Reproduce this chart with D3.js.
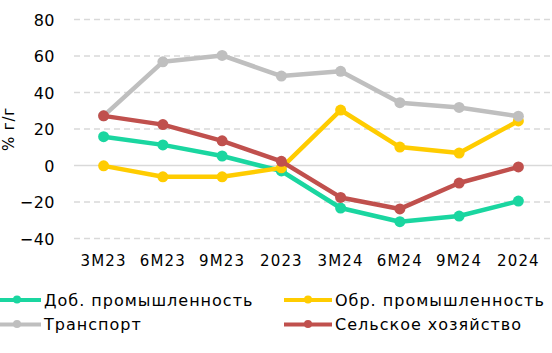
<!DOCTYPE html>
<html>
<head>
<meta charset="utf-8">
<script src="https://cdn.jsdelivr.net/npm/d3@7"></script>
<style>
  body { margin: 0; background: #fff; }
  svg text { font-family: "DejaVu Sans", Verdana, sans-serif; fill: #000; }
</style>
</head>
<body>
<div id="canvas"></div>
<script>
const w = 552;
const h = 353;

const periods = ["3M23", "6M23", "9M23", "2023", "3M24", "6M24", "9M24", "2024"];
const yTicks = [-40, -20, 0, 20, 40, 60, 80];

const mining = [15.8, 11.3, 5.2, -3.0, -23.3, -30.8, -27.7, -19.5];
const manufacturing = [-0.2, -6.2, -6.2, -1.3, 30.4, 10.1, 6.8, 24.4];
const transport = [27.2, 56.8, 60.3, 49.0, 51.6, 34.4, 31.8, 27.0];
const agriculture = [27.2, 22.4, 13.5, 2.3, -17.5, -23.8, -9.6, -0.8];

const seriesNames = ["Доб. промышленность", "Обр. промышленность", "Транспорт", "Сельское хозяйство"];
const seriesColors = ["#1ad6a0", "#ffcc00", "#bfbfbf", "#c0504d"];
const seriesValues = [mining, manufacturing, transport, agriculture];

const margin = { top: 19.5, left: 74, right: 4, bottom: 114.5 };

const svg = d3.select("#canvas")
  .append("svg")
  .attr("width", w)
  .attr("height", h);

const x = d3.scaleBand()
  .domain(periods)
  .range([margin.left, w - margin.right]);

const y = d3.scaleLinear()
  .domain([-40, 80])
  .range([h - margin.bottom, margin.top]);

// gridlines
const grid = svg.append("g");
grid.selectAll("line")
  .data(yTicks)
  .enter()
  .append("line")
  .attr("x1", margin.left)
  .attr("x2", w)
  .attr("y1", d => y(d))
  .attr("y2", d => y(d))
  .attr("stroke", "#d9d9d9")
  .attr("stroke-width", 1.5)
  .attr("stroke-dasharray", d => d === 0 ? null : "6,4");

// y axis labels
const yAxis = d3.axisLeft(y)
  .tickValues(yTicks)
  .tickSize(0)
  .tickPadding(0);
const yg = svg.append("g")
  .attr("transform", "translate(55,0)")
  .call(yAxis);
yg.select(".domain").remove();
yg.selectAll("text")
  .style("font-size", "16px")
  .style("letter-spacing", "0.5px")
  .attr("dy", "0.35em");

// x axis labels
const xAxis = d3.axisBottom(x).tickSize(0).tickPadding(0);
const xg = svg.append("g")
  .attr("transform", "translate(0,255)")
  .call(xAxis);
xg.select(".domain").remove();
xg.selectAll("text")
  .style("font-size", "15px")
  .style("letter-spacing", "1.2px");

// y axis title
svg.append("text")
  .attr("transform", "translate(14," + y(20) + ") rotate(-90)")
  .attr("text-anchor", "middle")
  .style("font-size", "15px")
  .style("letter-spacing", "0.8px")
  .text("% г/г");

// lines
const line = d3.line()
  .x((d, i) => x(periods[i]) + x.bandwidth() / 2)
  .y(d => y(d));

seriesValues.forEach(function(vals, k) {
  const g = svg.append("g");
  g.append("path")
    .attr("d", line(vals))
    .attr("fill", "none")
    .attr("stroke", seriesColors[k])
    .attr("stroke-width", 4.5)
    .attr("stroke-linejoin", "round");
  g.selectAll("circle")
    .data(vals)
    .enter()
    .append("circle")
    .attr("cx", (d, i) => x(periods[i]) + x.bandwidth() / 2)
    .attr("cy", d => y(d))
    .attr("r", 5.5)
    .attr("fill", seriesColors[k]);
});

// legend
const legendPos = [[-7, 300], [284, 300], [-7, 324.5], [284, 324.5]];
seriesNames.forEach(function(name, k) {
  const lx = legendPos[k][0];
  const ly = legendPos[k][1];
  const g = svg.append("g");
  g.append("line")
    .attr("x1", lx)
    .attr("x2", lx + 48)
    .attr("y1", ly)
    .attr("y2", ly)
    .attr("stroke", seriesColors[k])
    .attr("stroke-width", 4);
  g.append("circle")
    .attr("cx", lx + 24)
    .attr("cy", ly - 0.5)
    .attr("r", 4)
    .attr("fill", seriesColors[k]);
  g.append("text")
    .attr("x", lx + 51)
    .attr("y", ly)
    .attr("dy", "0.35em")
    .style("font-size", "16px")
    .style("letter-spacing", "1px")
    .text(name);
});
</script>
</body>
</html>
